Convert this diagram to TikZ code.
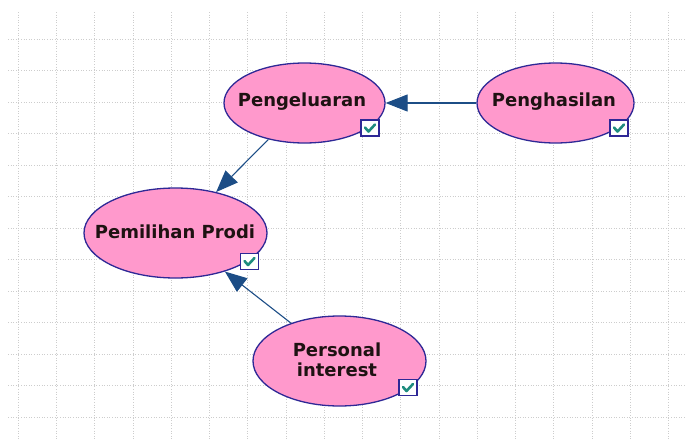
\documentclass[tikz,border=0pt]{standalone}
\usepackage{fontspec}
\setmainfont{DejaVu Sans}
\usetikzlibrary{shapes.geometric,arrows.meta}

\definecolor{gridgray}{RGB}{205,205,205}
\definecolor{nodepink}{RGB}{255,153,204}
\definecolor{nodeborder}{RGB}{46,40,150}
\definecolor{linkblue}{RGB}{28,77,134}
\definecolor{tickteal}{RGB}{30,140,126}
\definecolor{labelink}{RGB}{30,18,18}

\tikzset{
  gridline/.style={gridgray, line width=0.9pt, dash pattern=on 1pt off 1.6pt},
  bnode/.style={ellipse, draw=nodeborder, line width=1.3pt, fill=nodepink, inner sep=0pt},
  bnodetext/.style={text=labelink, font=\bfseries\fontsize{18}{19.5}\selectfont, align=center, inner sep=0pt},
  link/.style={draw=linkblue, line width=1.1pt,
    -{Triangle[length=22pt, width=17pt]}},
  chkbox/.style={rectangle, draw=nodeborder, line width=1.3pt, fill=white,
    minimum width=18pt, minimum height=16pt, inner sep=0pt},
  tickline/.style={draw=tickteal, line width=2.6pt, line cap=round, line join=round},
  tickbox/.pic={
    \node[chkbox] (-box) at (0,0) {};
    \draw[tickline] (-5,-0.5) -- (-1.5,3.5) -- (5,-3.5);
  }
}

\begin{document}
\begin{tikzpicture}[x=1pt, y=-1pt]
  \useasboundingbox (0,0) rectangle (685,439);
  \fill[white] (0,0) rectangle (685,439);

  % dotted background grid
  \foreach \k in {0,...,17}
    \draw[gridline] ({18.3+38.25*\k},12) -- ({18.3+38.25*\k},439);
  \foreach \k in {0,...,12}
    \draw[gridline] (8,{39+31.52*\k}) -- (685,{39+31.52*\k});

  % network nodes
  \node[bnode, minimum width=161pt, minimum height=80pt] (peng) at (304.5,103) {};
  \node[bnode, minimum width=157pt, minimum height=80pt] (hasil) at (555.5,103) {};
  \node[bnode, minimum width=183pt, minimum height=90pt] (prodi) at (175.5,233) {};
  \node[bnode, minimum width=173pt, minimum height=90pt] (minat) at (339.5,361) {};

  % labels
  \node[bnodetext] (pengT) at (302,102) {Pengeluaran};
  \node[bnodetext] (hasilT) at (554,102) {Penghasilan};
  \node[bnodetext] (prodiT) at (175,232) {Pemilihan Prodi};
  \node[bnodetext] (minatT) at (337,360) {Personal\\interest};

  % status boxes
  \pic (c1) at (370,128) {tickbox};
  \pic (c2) at (619,128) {tickbox};
  \pic (c3) at (249.5,261.5) {tickbox};
  \pic (c4) at (408,387.5) {tickbox};

  % dependencies
  \draw[link] (hasil) -- (peng);
  \draw[link] (peng) -- (prodi);
  \draw[link] (minat) -- (prodi);
\end{tikzpicture}
\end{document}
